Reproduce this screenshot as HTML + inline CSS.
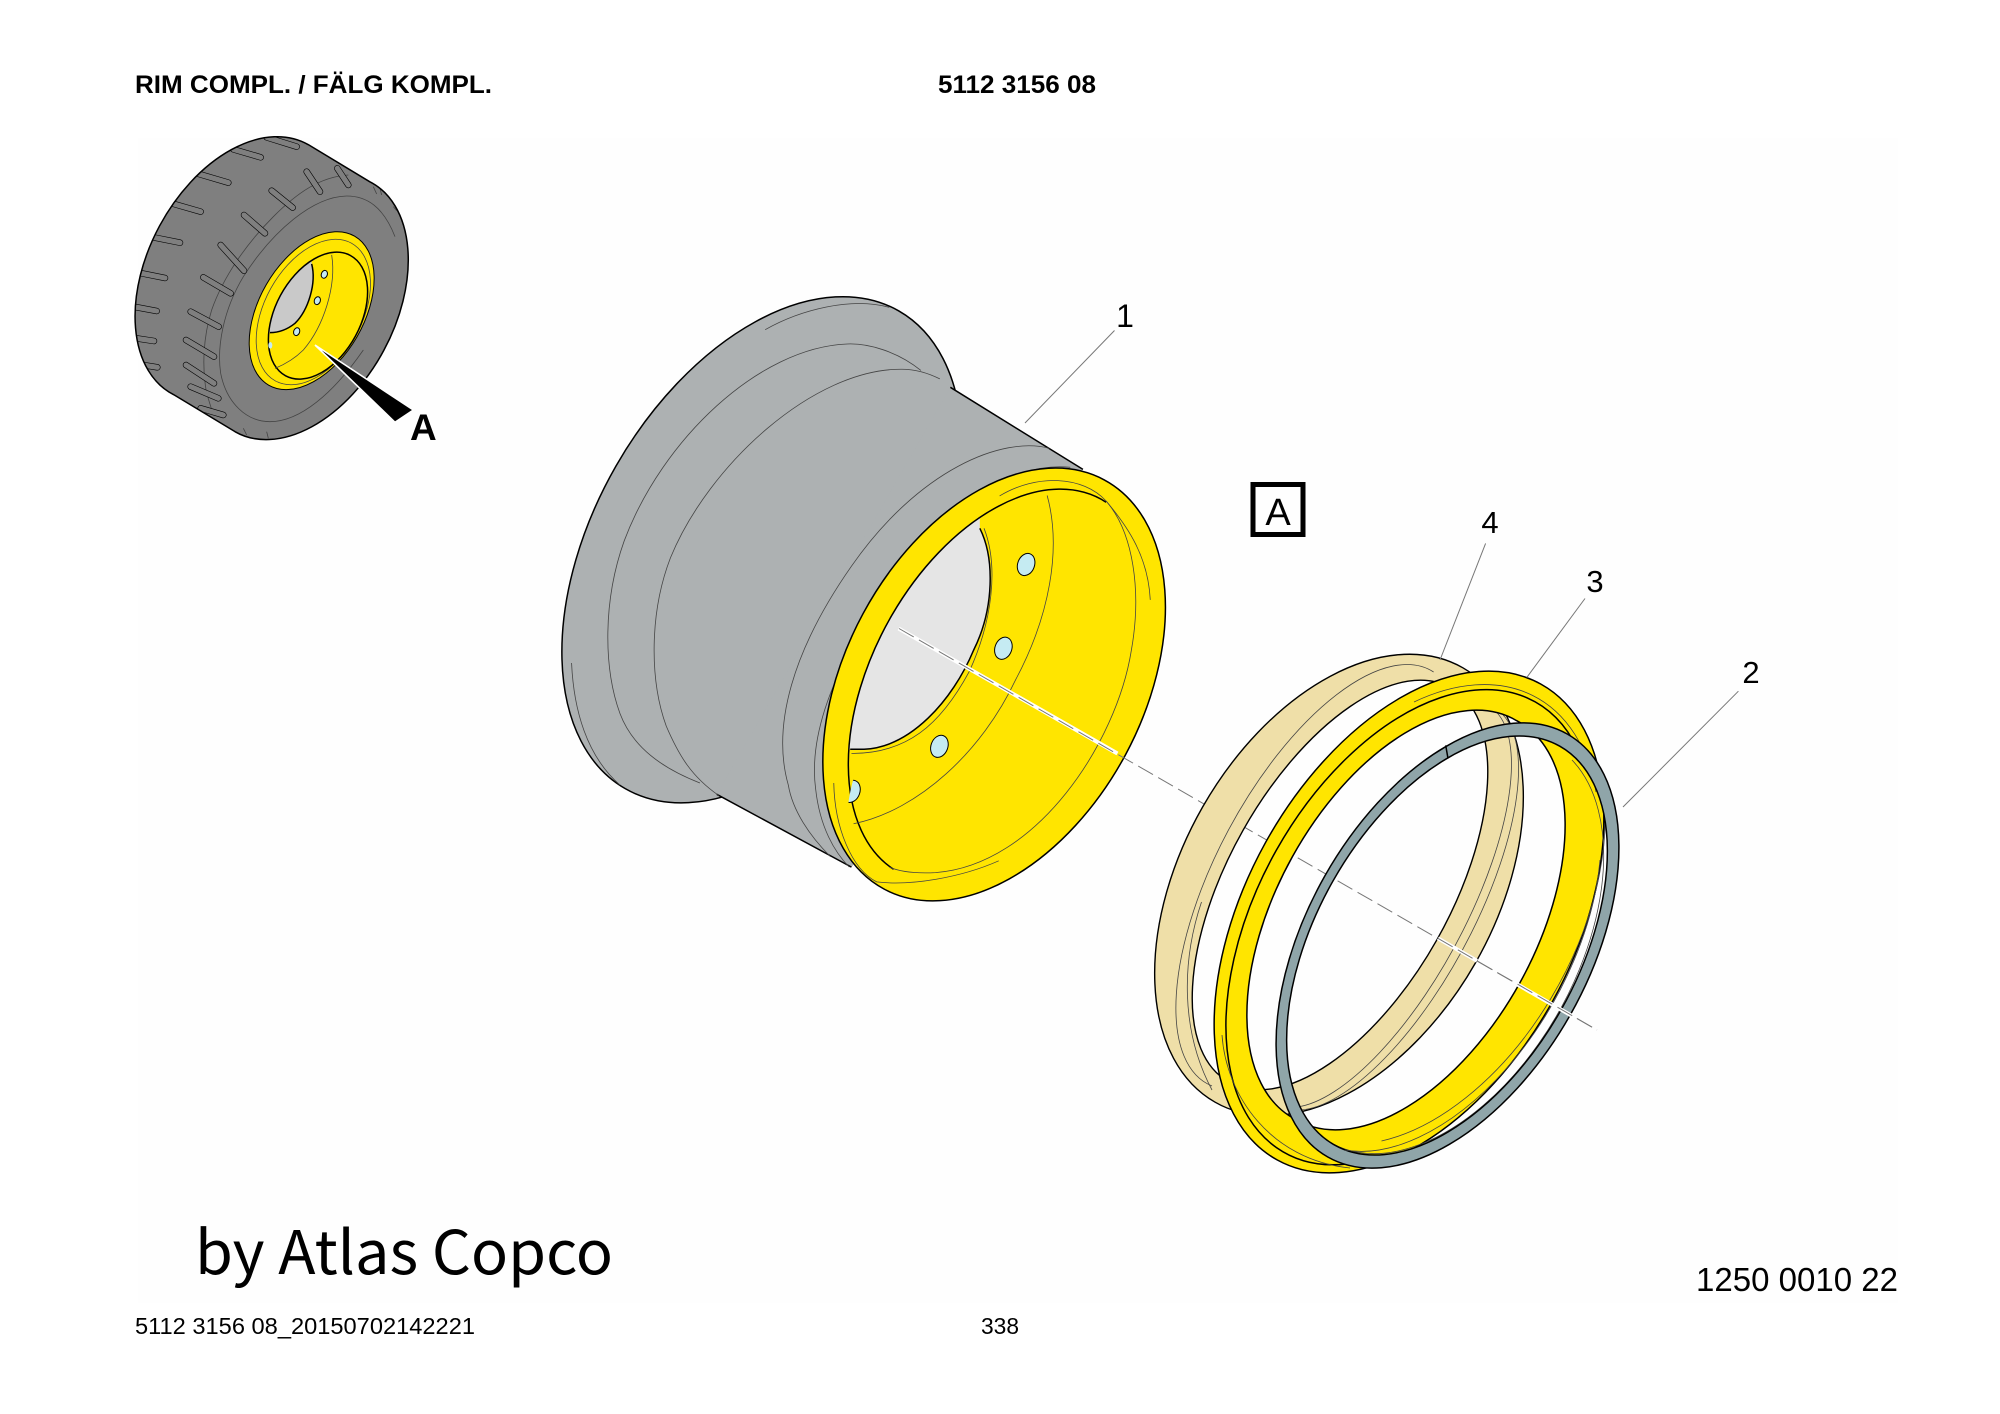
<!DOCTYPE html>
<html><head><meta charset="utf-8"><title>RIM COMPL.</title>
<style>
html,body{margin:0;padding:0;background:#fff}
svg{display:block}
path,ellipse,line,polyline{vector-effect:non-scaling-stroke}
text{font-family:"Liberation Sans",sans-serif;fill:#000}
.k{fill:none;stroke:#000;stroke-width:1.5}
.t{fill:none;stroke:#444;stroke-width:.8}
.y{fill:#ffe500}
.h{fill:#c5ebf2;stroke:#000;stroke-width:1}
</style></head><body>
<svg width="2000" height="1414" viewBox="0 0 2000 1414" xmlns="http://www.w3.org/2000/svg">
<defs>
<clipPath id="tireclip"><path d="M625,314 L809,425 A426 273 -61.7 1 1 405,1175 L221,1064 A426 273 -61.7 1 1 625,314Z"/></clipPath>
<clipPath id="tireinner"><ellipse cx="654" cy="827" rx="205" ry="128" transform="rotate(-61.7 654 827)"/></clipPath>
<clipPath id="wheelinner"><ellipse cx="1092.5" cy="964" rx="504" ry="305" transform="rotate(-61.7 1092.5 964)"/></clipPath>
</defs>
<rect width="2000" height="1414" fill="#fff"/>
<rect x="138" y="138" width="1760" height="1165" fill="#fefefe"/>

<text x="135" y="93" font-size="25" font-weight="bold" textLength="357" lengthAdjust="spacingAndGlyphs">RIM COMPL. / FÄLG KOMPL.</text>
<text x="938" y="93" font-size="25" font-weight="bold" textLength="158" lengthAdjust="spacingAndGlyphs">5112 3156 08</text>

<!-- tire -->
<g transform="translate(100,40) scale(.33333)">
<path d="M625,314 L809,425 A426 273 -61.7 1 1 405,1175 L221,1064 A426 273 -61.7 1 1 625,314Z" fill="#7f7f7f"/>
<g clip-path="url(#tireclip)">
<path d="M885,590 C850,500 800,468 740,468 C640,470 520,570 430,710 C370,810 350,920 362,1000 C380,1090 440,1145 510,1145 C600,1145 700,1060 790,930" class="t"/>
<path d="M745,405 C660,410 590,460 520,530 C440,610 370,710 335,810 C310,890 305,980 320,1060 L340,1125" class="t"/>
<path d="M590,320 L500,292 M482,352 L400,328 M385,428 L290,400 M302,515 L215,490 M240,608 L160,592 M195,714 L115,698 M170,813 L90,798 M162,903 L90,892 M172,982 L110,972 M660,455 L620,395 M745,435 L712,385 M578,503 L515,452 M495,580 L432,525 M432,692 L362,615 M392,760 L310,712 M356,860 L272,815 M342,950 L258,900 M342,1030 L258,975 M355,1075 L272,1040 M370,1125 L302,1105" fill="none" stroke="#000" stroke-width="6.4" stroke-linecap="round"/>
<path d="M590,320 L500,292 M482,352 L400,328 M385,428 L290,400 M302,515 L215,490 M240,608 L160,592 M195,714 L115,698 M170,813 L90,798 M162,903 L90,892 M172,982 L110,972 M660,455 L620,395 M745,435 L712,385 M578,503 L515,452 M495,580 L432,525 M432,692 L362,615 M392,760 L310,712 M356,860 L272,815 M342,950 L258,900 M342,1030 L258,975 M355,1075 L272,1040 M370,1125 L302,1105" fill="none" stroke="#7f7f7f" stroke-width="5.2" stroke-linecap="round"/>
<path d="M820,440 L830,462 M840,445 L845,465 M880,500 L890,512 M430,1165 L440,1185 M500,1175 L505,1195" class="t"/>
</g>
<path d="M625,314 L809,425 A426 273 -61.7 1 1 405,1175 L221,1064 A426 273 -61.7 1 1 625,314Z" fill="none" stroke="#000" stroke-width="1.5"/>
<ellipse cx="635" cy="812" rx="258" ry="157" transform="rotate(-60 635 812)" class="y" stroke="#000" stroke-width="1"/>
<ellipse cx="640" cy="816" rx="236" ry="146" transform="rotate(-61 640 816)" class="t"/>
<path clip-path="url(#tireinner)" d="M635,672 C650,730 625,810 585,850 C560,870 535,878 510,878 L400,878 L400,600 L635,600Z" fill="#c9c9c9"/>
<ellipse cx="654" cy="827" rx="205" ry="128" transform="rotate(-61.7 654 827)" fill="none" stroke="#000" stroke-width="1.5"/>
<path d="M635,672 C650,730 625,810 585,850 C560,870 535,878 510,878" class="k"/>
<path d="M695,645 C710,740 670,860 610,930 C580,960 550,975 525,985" class="t"/>
<ellipse cx="673" cy="703" rx="9" ry="12" transform="rotate(20 673 703)" class="h"/>
<ellipse cx="652" cy="782" rx="9" ry="12" transform="rotate(20 652 782)" class="h"/>
<ellipse cx="590" cy="875" rx="9" ry="12" transform="rotate(20 590 875)" class="h"/>
<ellipse cx="511" cy="916" rx="6" ry="10" fill="#c5ebf2"/>
<path d="M645,915 L940,1110 L885,1147Z" fill="#000" stroke="#fff" stroke-width="1.6"/>
</g>
<text x="410" y="440" font-size="37" font-weight="bold">A</text>

<!-- wheel -->
<g transform="translate(540,280) scale(.42088)">
<ellipse cx="527.5" cy="641" rx="654" ry="400" transform="rotate(-60.2 527.5 641)" fill="#adb1b2" stroke="#000" stroke-width="1.5"/>
<path d="M975,255 L1290,450 L1079,961 L740,1395 L420,1222Z" fill="#adb1b2"/>
<path d="M975,255 L1290,450 M420,1222 L740,1395" class="k"/>
<path d="M535,118 C620,70 740,40 830,65" class="t"/>
<path d="M75,910 C80,1020 110,1130 190,1200" class="t"/>
<path d="M905,215 C850,170 780,150 730,152 C520,160 290,380 200,620 C150,760 150,920 190,1030 C220,1110 290,1160 380,1195" class="t"/>
<path d="M950,235 C920,220 890,212 860,212 C650,210 400,440 310,660 C260,790 260,950 300,1060 C330,1130 360,1180 425,1225" class="t"/>
<path d="M1210,400 C1100,370 900,450 740,680 C600,880 550,1060 590,1200 C600,1260 640,1320 690,1370" class="t"/>
<path d="M1260,445 C1120,430 950,540 800,770 C680,960 640,1100 655,1210 C665,1300 700,1360 735,1395" class="t"/>
<ellipse cx="1079" cy="961" rx="552" ry="354" transform="rotate(-61.7 1079 961)" class="y" stroke="#000" stroke-width="1.5"/>
<path clip-path="url(#wheelinner)" d="M1045,590 C1080,660 1080,780 1030,880 C980,1000 880,1110 770,1115 L600,1115 L600,500 L1045,500Z" fill="#e5e5e5"/>
<path d="M1345,528 A495 300 -61.7 1 0 840,1400" class="k"/>
<path d="M1045,590 C1080,660 1080,780 1030,880 C980,1000 880,1110 770,1115 L737,1115" class="k"/>
<path d="M1055,590 C1090,680 1075,810 1020,930 C950,1060 870,1125 740,1125" class="t"/>
<path d="M1205,512 C1240,640 1210,800 1130,950 C1050,1120 900,1260 745,1292" class="t"/>
<path d="M1092,513 C1180,460 1290,465 1345,525 C1400,590 1445,660 1450,760" class="t"/>
<path d="M1345,525 C1410,600 1430,740 1405,880 C1370,1100 1180,1390 940,1408 C900,1410 860,1408 830,1395" class="t"/>
<path d="M698,1195 C700,1300 740,1400 800,1430 C880,1440 1000,1420 1090,1380" class="t"/>
<ellipse cx="1155" cy="676" rx="20" ry="27" transform="rotate(20 1155 676)" class="h"/>
<ellipse cx="1101" cy="875" rx="20" ry="27" transform="rotate(20 1101 875)" class="h"/>
<ellipse cx="949" cy="1108" rx="20" ry="27" transform="rotate(20 949 1108)" class="h"/>
<ellipse clip-path="url(#wheelinner)" cx="740" cy="1215" rx="20" ry="27" transform="rotate(20 740 1215)" class="h"/>
<line x1="852" y1="828" x2="1372" y2="1125" stroke="#fff" stroke-width="4"/>
</g>
<line x1="1114.5" y1="330.5" x2="1025" y2="423" stroke="#777" stroke-width="1"/>
<line x1="899" y1="628.5" x2="1597" y2="1030" stroke="#777" stroke-width="1" stroke-dasharray="17 6"/>
<text x="1125" y="327" font-size="32" text-anchor="middle">1</text>

<rect x="1253" y="484.5" width="50" height="50" fill="none" stroke="#000" stroke-width="5"/>
<text x="1278" y="525" font-size="38" text-anchor="middle">A</text>

<!-- rings, real coordinates -->
<path fill-rule="evenodd" fill="#efdfa8" stroke="#000" stroke-width="1.4" d="M1462.9,667.8 A250 157 -60.3 1 0 1215.1,1102.2 A250 157 -60.3 1 0 1462.9,667.8Z M1450.9,688.1 A226 110 -60.6 1 0 1229.1,1081.9 A226 110 -60.6 1 0 1450.9,688.1Z"/>
<path d="M1433.6,672 A235 102 -61.7 1 0 1212,1086" class="t"/>
<path d="M1201.5,902 C1182,960 1180,1030 1212,1090" class="t"/>
<path d="M1496.4,712 A226 85 -61.7 0 1 1297,1107" class="t"/>
<path d="M1500,712 A226 87 -61.7 0 1 1300,1110" class="t"/>

<path fill-rule="evenodd" class="y" stroke="#000" stroke-width="1.5" d="M1540.9,684.1 A272 164 -61 1 0 1277.1,1159.9 A272 164 -61 1 0 1540.9,684.1Z M1516.5,720.6 A228 128 -61 1 0 1295.5,1119.4 A228 128 -61 1 0 1516.5,720.6Z"/>
<path d="M1577.4,748.6 A258 154 -61 0 0 1276.3,850.3 A258 154 -61 0 0 1347,1164" class="k"/>
<path d="M1414,702 A258 160 -61 0 1 1596,792" class="t"/>
<path d="M1600.5,774 A250 150 -61 0 1 1381.5,1141" class="t"/>
<path d="M1572,760 A226 134 -61 0 1 1312,1128" class="t"/>
<path d="M1222,1035 C1226,1095 1270,1160 1350,1168" class="t"/>

<path fill-rule="evenodd" fill="#8fa5a9" stroke="#000" stroke-width="1.5" d="M1567.2,734 A243 141 -60.5 1 0 1327.8,1157 A243 141 -60.5 1 0 1567.2,734Z M1559.8,746.2 A229 131 -60.5 1 0 1334.2,1144.8 A229 131 -60.5 1 0 1559.8,746.2Z"/>
<path d="M1445.7,745.4 L1448,758.5" class="k"/>
<path d="M1600,860 A236 136 -60.5 0 1 1345,1150" class="t"/>

<line x1="1437.9" y1="938.3" x2="1477" y2="960.8" stroke="#fff" stroke-width="4"/>
<line x1="1513.8" y1="982.4" x2="1574.5" y2="1017.3" stroke="#fff" stroke-width="4"/>
<line x1="1437.9" y1="938.3" x2="1597" y2="1030" stroke="#777" stroke-width="1" stroke-dasharray="17 6"/>

<line x1="1485.6" y1="543.4" x2="1440" y2="660" stroke="#777" stroke-width="1"/>
<line x1="1585" y1="598.5" x2="1526.8" y2="677.4" stroke="#777" stroke-width="1"/>
<line x1="1738.4" y1="691.2" x2="1623" y2="807" stroke="#777" stroke-width="1"/>
<text x="1490" y="533" font-size="31" text-anchor="middle">4</text>
<text x="1595" y="592" font-size="31" text-anchor="middle">3</text>
<text x="1751" y="683" font-size="31" text-anchor="middle">2</text>

<text x="195" y="1274" font-size="60" style="font-family:'Noto Sans CJK SC',sans-serif" textLength="418" lengthAdjust="spacingAndGlyphs">by Atlas Copco</text>
<text x="1696" y="1291" font-size="33" textLength="202" lengthAdjust="spacingAndGlyphs">1250 0010 22</text>
<text x="135" y="1334" font-size="23" textLength="340" lengthAdjust="spacingAndGlyphs">5112 3156 08_20150702142221</text>
<text x="981" y="1334" font-size="23" textLength="38" lengthAdjust="spacingAndGlyphs">338</text>
</svg>
</body></html>
